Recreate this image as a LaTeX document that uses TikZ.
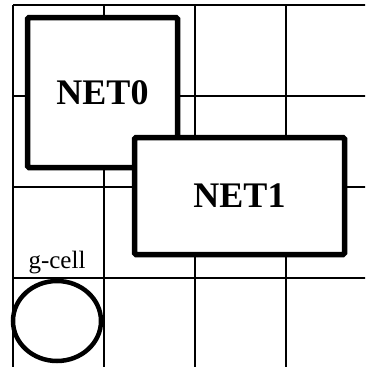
\documentclass[tikz,border=0pt]{standalone}
\usepackage{fontspec}
\setmainfont{Liberation Serif}
\usetikzlibrary{positioning,shapes.geometric}
\definecolor{Ink}{HTML}{000000}

\begin{document}
\begin{tikzpicture}[x=1pt,y=-1pt,
  gridline/.style={Ink,line width=2pt},
  netbox/.style={draw=Ink,fill=white,line width=5.5pt,rounded corners=1.5pt,font=\bfseries\fontsize{36}{40}\selectfont}]
\useasboundingbox (0,0) rectangle (365,367);
\clip (0,0) rectangle (365,367);
\foreach \k in {0,...,4} {
  \draw[gridline] (13+91*\k,5) -- (13+91*\k,420);
  \draw[gridline] (13,5+91*\k) -- (420,5+91*\k);
}
\node[netbox,minimum width=150pt,minimum height=150pt] (net0) at (102.5,92.5) {NET0};
\node[netbox,minimum width=210pt,minimum height=117pt] (net1) at (239.5,196) {NET1};
\node[ellipse,draw=Ink,line width=4.5pt,minimum width=88pt,minimum height=80pt] (gcell) at (57,321) {};
\node[inner sep=0pt,font=\fontsize{25}{28}\selectfont,above=5pt of gcell] (gcelltxt) {g-cell};
\end{tikzpicture}
\end{document}
